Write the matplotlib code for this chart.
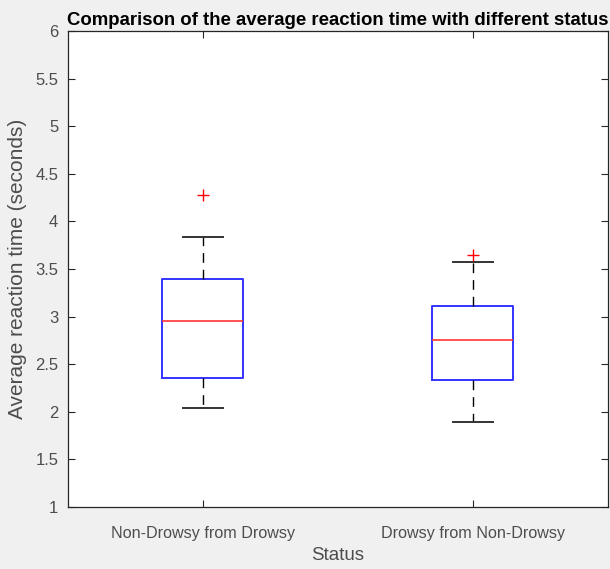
import matplotlib
matplotlib.use("Agg")
import matplotlib.pyplot as plt

plt.rcParams['font.family'] = ['Liberation Sans', 'DejaVu Sans']

categories = ["Non-Drowsy from Drowsy", "Drowsy from Non-Drowsy"]
whislo = [2.04, 1.89]
q1 = [2.35, 2.33]
med = [2.95, 2.75]
q3 = [3.39, 3.11]
whishi = [3.84, 3.57]
fliers = [[4.28], [3.65]]
yticks = [1, 1.5, 2, 2.5, 3, 3.5, 4, 4.5, 5, 5.5, 6]

stats = []
for i, name in enumerate(categories):
    stats.append(dict(label=name, whislo=whislo[i], q1=q1[i], med=med[i],
                      q3=q3[i], whishi=whishi[i], fliers=fliers[i]))

fig = plt.figure(figsize=(6.10, 5.69), dpi=100, facecolor='#f0f0f0')
ax = fig.add_axes([68/610, 62/569, 539.7/610, 476/569])
ax.set_facecolor('white')

ax.bxp(stats, positions=[1, 2], widths=0.3, showfliers=True,
       boxprops=dict(color='#3333ff', linewidth=1.4),
       medianprops=dict(color='#ff3333', linewidth=1.2),
       whiskerprops=dict(color='black', linewidth=1.0, linestyle=(0, (7, 5))),
       capprops=dict(color='#333333', linewidth=1.4),
       capwidths=0.15,
       flierprops=dict(marker='+', markeredgecolor='red', markersize=8, linestyle='none'))

ax.set_xlim(0.5, 2.5)
ax.set_ylim(1, 6)
ax.set_yticks(yticks)
ax.set_yticklabels([f"{v:g}" for v in yticks])
ax.set_xticks([1, 2])
ax.set_xticklabels(categories)
ax.tick_params(direction='in', top=True, right=True, length=5, width=0.8,
               colors='#262626', labelcolor='#4d4d4d', labelsize=12, pad=7)
ax.tick_params(axis='x', pad=14, labelsize=11.6)
for s in ax.spines.values():
    s.set_color('#262626')
    s.set_linewidth(0.9)

ax.set_xlabel("Status", fontsize=13.5, color='#4d4d4d', labelpad=4)
ax.set_ylabel("Average reaction time (seconds)", fontsize=15, color='#4d4d4d', labelpad=6)
ax.set_title("Comparison of the average reaction time with different status",
             fontsize=13.4, fontweight='bold', color='black', pad=4)

fig.savefig("out.png", dpi=100, facecolor=fig.get_facecolor())
